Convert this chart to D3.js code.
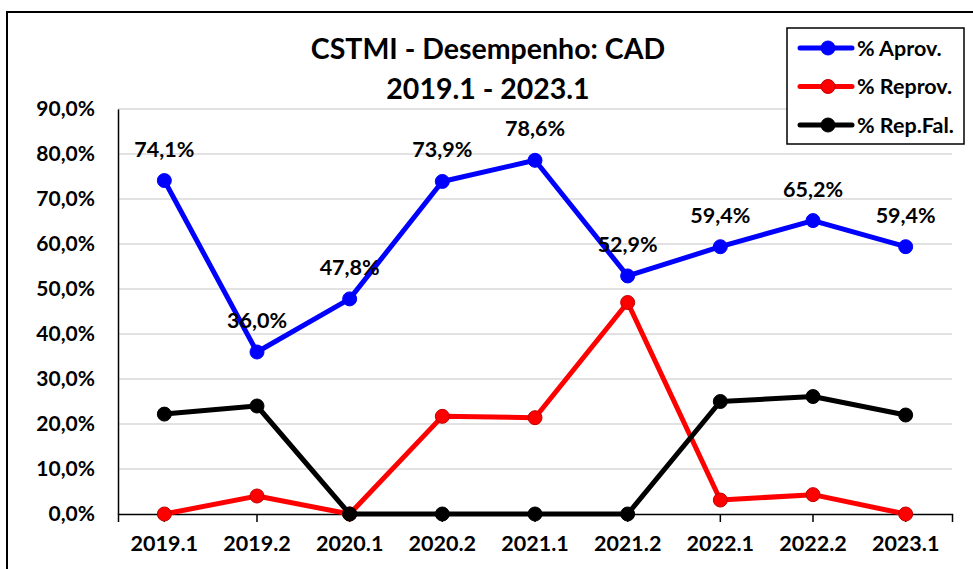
<!DOCTYPE html>
<html>
<head>
<meta charset="utf-8">
<script src="https://cdn.jsdelivr.net/npm/d3@7"></script>
<style>
  body { margin: 0; background: #fff; }
  svg { display: block; font-family: Lato, 'Open Sans', sans-serif; font-weight: 700; }
</style>
</head>
<body>
<div id="chart"></div>
<script>
'use strict'

const categories = ['2019.1', '2019.2', '2020.1', '2020.2', '2021.1', '2021.2', '2022.1', '2022.2', '2023.1']
const aprov = [74.1, 36.0, 47.8, 73.9, 78.6, 52.9, 59.4, 65.2, 59.4]
const reprov = [0, 4.0, 0, 21.7, 21.4, 47.0, 3.1, 4.3, 0]
const repFal = [22.2, 24.0, 0, 0, 0, 0, 25.0, 26.1, 22.0]
const yTicks = [0, 10, 20, 30, 40, 50, 60, 70, 80, 90]
const titleLines = ['CSTMI - Desempenho: CAD', '2019.1 - 2023.1']

const series = [
  { name: '% Aprov.', values: aprov, color: '#0000ff', stroke: '#0000ff' },
  { name: '% Reprov.', values: reprov, color: '#ff0000', stroke: '#c00000' },
  { name: '% Rep.Fal.', values: repFal, color: '#000000', stroke: '#000000' }
]

const width = 973
const height = 569
const plot = { left: 118, right: 952, top: 109, bottom: 514 }

const fmt = function (v) {
  return v.toFixed(1).replace('.', ',') + '%'
}

const svg = d3.select('#chart').append('svg')
  .attr('width', width)
  .attr('height', height)

// chart frame runs off the right and bottom of the picture
svg.append('rect')
  .attr('x', 7)
  .attr('y', 12)
  .attr('width', 1000)
  .attr('height', 600)
  .attr('fill', '#fff')
  .attr('stroke', '#000')
  .attr('stroke-width', 2)

const x = d3.scaleBand()
  .domain(categories)
  .range([plot.left, plot.right])

const y = d3.scaleLinear()
  .domain([0, 90])
  .range([plot.bottom, plot.top])

const cx = function (i) {
  return x(categories[i]) + x.bandwidth() / 2
}

// gridlines
svg.append('g')
  .selectAll('line')
  .data(yTicks.filter(function (t) { return t > 0 }))
  .enter()
  .append('line')
  .attr('x1', plot.left)
  .attr('x2', plot.right)
  .attr('y1', function (d) { return y(d) })
  .attr('y2', function (d) { return y(d) })
  .attr('stroke', '#d9d9d9')
  .attr('stroke-width', 1.5)

// y axis
const yAxis = svg.append('g')
  .attr('transform', 'translate(' + plot.left + ',0)')
  .call(d3.axisLeft(y).tickValues(yTicks).tickSize(0).tickPadding(23).tickFormat(function (d) { return fmt(d) }))

yAxis.select('.domain').attr('stroke', '#000').attr('stroke-width', 1.5)
yAxis.selectAll('text')
  .attr('font-size', 21)
  .attr('font-family', 'Lato')
  .attr('font-weight', 700)
  .attr('fill', '#000')

// x axis
const xAxis = svg.append('g')
  .attr('transform', 'translate(0,' + plot.bottom + ')')
  .call(d3.axisBottom(x).tickSize(8).tickPadding(14).tickSizeOuter(8))

xAxis.select('.domain').attr('stroke', '#000').attr('stroke-width', 1.5)
xAxis.selectAll('.tick line').attr('stroke', '#000').attr('stroke-width', 1.5)
xAxis.selectAll('text')
  .attr('font-size', 21.5)
  .attr('font-family', 'Lato')
  .attr('font-weight', 700)
  .attr('fill', '#000')

// lines and markers
const line = d3.line()
  .x(function (d, i) { return cx(i) })
  .y(function (d) { return y(d) })

series.forEach(function (s) {
  const g = svg.append('g')
  g.append('path')
    .datum(s.values)
    .attr('d', line)
    .attr('fill', 'none')
    .attr('stroke', s.color)
    .attr('stroke-width', 5)
    .attr('stroke-linejoin', 'round')

  g.selectAll('circle')
    .data(s.values)
    .enter()
    .append('circle')
    .attr('cx', function (d, i) { return cx(i) })
    .attr('cy', function (d) { return y(d) })
    .attr('r', 7)
    .attr('fill', s.color)
    .attr('stroke', s.stroke)
    .attr('stroke-width', 1)
})

// data labels for % Aprov.
svg.append('g')
  .selectAll('text')
  .data(aprov)
  .enter()
  .append('text')
  .attr('x', function (d, i) { return cx(i) })
  .attr('y', function (d) { return y(d) - 24 })
  .attr('text-anchor', 'middle')
  .attr('font-size', 21.5)
  .attr('fill', '#000')
  .text(fmt)

// title
svg.append('g')
  .selectAll('text')
  .data(titleLines)
  .enter()
  .append('text')
  .attr('x', 488)
  .attr('y', function (d, i) { return 59 + i * 40 })
  .attr('text-anchor', 'middle')
  .attr('font-size', 28.5)
  .attr('fill', '#000')
  .text(function (d) { return d })

// legend
const legend = svg.append('g')

legend.append('rect')
  .attr('x', 787)
  .attr('y', 28)
  .attr('width', 177)
  .attr('height', 116)
  .attr('fill', '#fff')
  .attr('stroke', '#000')
  .attr('stroke-width', 1.5)

const item = legend.selectAll('g.item')
  .data(series)
  .enter()
  .append('g')
  .attr('class', 'item')
  .attr('transform', function (d, i) { return 'translate(0,' + (48 + i * 38.5) + ')' })

item.append('line')
  .attr('x1', 800)
  .attr('x2', 852)
  .attr('stroke', function (d) { return d.color })
  .attr('stroke-width', 5)
  .attr('stroke-linecap', 'round')

item.append('circle')
  .attr('cx', 828)
  .attr('r', 7)
  .attr('fill', function (d) { return d.color })
  .attr('stroke', function (d) { return d.stroke })

item.append('text')
  .attr('x', 857)
  .attr('y', 7.5)
  .attr('font-size', 21.5)
  .attr('fill', '#000')
  .text(function (d) { return d.name })
</script>
</body>
</html>
